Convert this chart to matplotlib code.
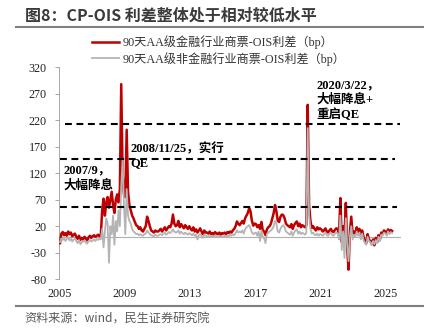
import matplotlib
matplotlib.use('Agg')
import matplotlib.pyplot as plt
from matplotlib.lines import Line2D
import numpy as np
import pandas as pd

plt.rcParams['font.family'] = ['Liberation Serif', 'Noto Sans CJK SC']
plt.rcParams['axes.unicode_minus'] = False

# ---- data: monthly CP-OIS spread (bp), Jan 2005 - May 2025 ----
months = pd.date_range('2005-01', '2025-05', freq='MS')

fin_spread = [
    -12, 6, 9, 3, 7, 2, 10, 5, 8, 1, 4, 6,           # 2005
    0, -4, 2, -6, -2, -5, 0, -3, -7, -1, 2, -2,      # 2006
    1, 3, 0, 2, 4, 1, 3, 50, 72, 40, 65, 75,         # 2007
    55, 70, 85, 60, 45, 70, 80, 65, 90, 288, 120, 80,  # 2008
    75, 202, 85, 60, 50, 40, 35, 28, 22, 20, 15, 18,  # 2009
    12, 10, 15, 20, 38, 30, 20, 12, 10, 8, 12, 10,   # 2010
    10, 12, 15, 10, 14, 18, 12, 16, 20, 18, 25, 42,  # 2011
    25, 20, 22, 30, 18, 24, 20, 16, 22, 18, 15, 20,  # 2012
    15, 12, 18, 10, 14, 8, 12, 16, 10, 5, 12, 8,     # 2013
    8, 6, 10, 5, 7, 4, 9, 6, 5, 8, 4, 7,             # 2014
    6, 8, 5, 9, 7, 10, 8, 12, 15, 20, 29, 25,        # 2015
    22, 26, 30, 25, 35, 40, 45, 54, 48, 30, 21, 25,  # 2016
    24, 18, 22, 15, 28, 12, 10, 3, 14, 18, 20, 25,   # 2017
    35, 45, 60, 48, 30, 28, 38, 42, 41, 35, 25, 22,  # 2018
    20, 18, 24, 15, 22, 26, 29, 20, 25, 18, 22, 20,  # 2019
    18, 22, 249, 60, 30, 17, 20, 15, 12, 18, 14, 16,  # 2020
    14, 10, 12, 16, 10, 8, 12, 15, 10, 9, 13, 16,    # 2021
    15, 5, 73, -10, 20, 0, 64, -20, -62, 10, 38, 5,  # 2022
    10, 5, 18, 8, 15, 3, 12, 0, -8, -12, 5, -5,      # 2023
    -8, -14, -5, -16, -2, -10, 3, -6, 8, 5, 12, 10,  # 2024
    5, 14, 8, 13, 11,                                # 2025
]

nonfin_spread = [
    -10, -3, -6, -2, -8, -4, -1, -7, -3, -9, -5, -4,     # 2005
    -8, -12, -6, -14, -10, -9, -7, -11, -13, -8, -6, -9,  # 2006
    -7, -5, -8, -4, -6, -3, -5, 15, -20, 10, 35, 25,     # 2007
    -49, 20, 5, 40, -15, 30, 10, 50, 20, 95, 145, 60,    # 2008
    5, 90, 40, 30, 25, 15, 10, 8, 5, 6, 3, 5,            # 2009
    3, 2, 5, 6, 12, 8, 5, 3, 2, 1, 4, 2,                 # 2010
    2, 4, 5, 3, 6, 8, 4, 6, 9, 7, 10, 14,                # 2011
    10, 8, 9, 12, 6, 10, 7, 5, 8, 6, 4, 7,               # 2012
    5, 3, 6, 2, 4, -5, 3, 5, 1, -2, 4, 2,                # 2013
    1, 0, 3, -1, 2, 0, 3, 1, -1, 2, 0, 1,                # 2014
    0, 2, -1, 3, 1, 4, 2, 5, 3, 7, 12, 8,                # 2015
    10, 8, 12, 6, 14, 18, 20, 22, 16, 8, 5, 7,           # 2016
    8, 2, 10, -8, 12, 0, -3, -12, 5, 8, 10, 12,          # 2017
    15, 20, 30, 25, 10, 8, 15, 20, 22, 18, 10, 8,        # 2018
    6, 4, 10, 2, 8, 12, 14, 6, 10, 5, 8, 6,              # 2019
    4, 8, 205, 40, 15, 6, 8, 4, 3, 6, 2, 5,              # 2020
    4, 2, 5, 8, 3, 2, 6, 8, 3, 2, 6, 8,                  # 2021
    6, -5, 40, -25, 10, -40, 35, -15, -46, 0, 20, -5,    # 2022
    4, 0, 10, 2, 8, -5, 6, -6, -12, -15, 0, -8,          # 2023
    -10, -16, -8, -14, -6, -12, 0, -8, 4, 2, 8, 6,       # 2024
    2, 10, 5, 9, 7,                                      # 2025
]

# dashed reference levels (bp) and their x extents
ref_levels = [213, 147, 57]
ref_x0 = [2005.35, 2005.05, 2005.05]
ref_x1 = [2025.85, 2025.55, 2025.7]

year_ticks = [2005, 2009, 2013, 2017, 2021, 2025]
y_ticks = list(range(-80, 321, 50))

fin_label = '90天AA级金融行业商票-OIS利差（bp）'
nonfin_label = '90天AA级非金融行业商票-OIS利差（bp）'

t = months.year + (months.month - 0.5) / 12.0

fig = plt.figure(figsize=(4.36, 3.36), dpi=100)
ax = fig.add_axes([0.136, 0.169, 0.783, 0.631])

l1, = ax.plot(t, fin_spread, color='#c00000', lw=1.8, zorder=3)
l2, = ax.plot(t, nonfin_spread, color='#b4b4b4', lw=1.3, zorder=4)

ax.axhline(0, color='#b0b0b0', lw=0.8, zorder=2)

for lv, a, b in zip(ref_levels, ref_x0, ref_x1):
    ax.plot([a, b], [lv, lv], color='black', lw=1.5, dashes=(3.3, 2.2), zorder=5)

ax.set_xlim(2005, 2025.9)
ax.set_ylim(-80, 320)
ax.set_xticks(year_ticks)
ax.set_yticks(y_ticks)
ax.tick_params(axis='x', length=0, pad=6, labelsize=8.7, colors='#222222')
ax.tick_params(axis='y', direction='out', length=3, width=0.6, color='#999999',
               pad=6, labelsize=8.7, labelcolor='#222222')
for s in ['top', 'right', 'bottom']:
    ax.spines[s].set_visible(False)
ax.spines['left'].set_color('#999999')
ax.spines['left'].set_linewidth(0.6)

# annotations
ax.text(2005.25, 137, '2007/9，\n大幅降息', fontsize=9, fontweight='bold',
        va='top', ha='left', linespacing=1.35, zorder=6)
ax.text(2009.36, 178, '2008/11/25，实行\nQE', fontsize=9, fontweight='bold',
        va='top', ha='left', linespacing=1.25, zorder=6)
ax.text(2020.75, 298, '2020/3/22，\n大幅降息+\n重启QE', fontsize=9, fontweight='bold',
        va='top', ha='left', linespacing=1.3, zorder=6)

fig.legend([l1, l2], [fin_label, nonfin_label], loc='upper left',
           bbox_to_anchor=(0.2, 0.91), frameon=False, fontsize=8.7,
           handlelength=2.2, handletextpad=0.3, labelspacing=0.25,
           labelcolor='#333333', borderaxespad=0)

# header / footer
fig.text(0.057, 0.955, '图8：CP-OIS 利差整体处于相对较低水平', fontsize=11.5,
         fontweight='bold', color='#3a3a3a', va='center', ha='left',
         family=['Noto Sans CJK SC', 'DejaVu Sans'])
fig.add_artist(Line2D([0.037, 0.970], [0.919, 0.919], color='#7f7f7f', lw=1.5,
                      transform=fig.transFigure))
fig.add_artist(Line2D([0.037, 0.970], [0.089, 0.089], color='#7f7f7f', lw=1.5,
                      transform=fig.transFigure))
fig.text(0.057, 0.049, '资料来源：wind，民生证券研究院', fontsize=8.7,
         color='#595959', va='center', ha='left',
         family=['Noto Sans CJK SC', 'DejaVu Sans'])

fig.savefig('out.png', dpi=100, facecolor='white')
